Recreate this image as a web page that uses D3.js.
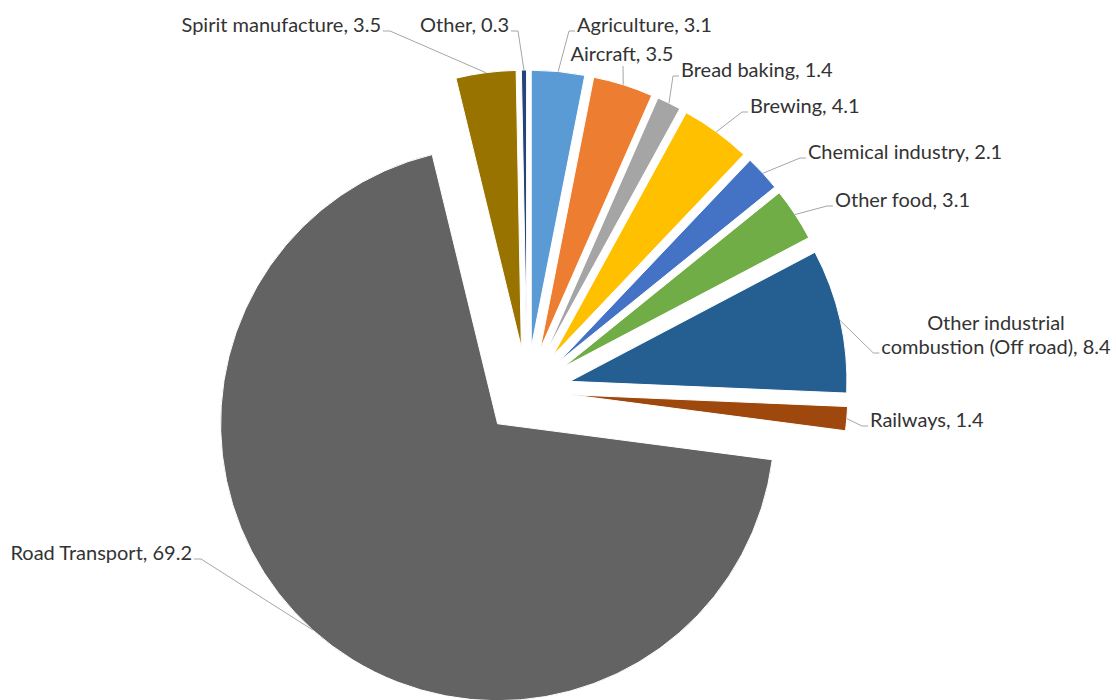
<!DOCTYPE html>
<html>
<head>
<meta charset="utf-8">
<script src="https://cdn.jsdelivr.net/npm/d3@7"></script>
<style>
  body { margin: 0; background: #fff; }
  svg { display: block; }
  .lbl { font-family: Lato, "Open Sans", sans-serif; font-size: 20px; fill: #333333; }
</style>
</head>
<body>
<script>
// categories and their shares, clockwise from 12 o'clock
var categories = ["Agriculture", "Aircraft", "Bread baking", "Brewing", "Chemical industry",
  "Other food", "Other industrial combustion (Off road)", "Railways", "Road Transport",
  "Spirit manufacture", "Other"];
var values = [3.1, 3.5, 1.4, 4.1, 2.1, 3.1, 8.4, 1.4, 69.2, 3.5, 0.3];

var colors = ["#5B9BD5", "#ED7D31", "#A5A5A5", "#FFC000", "#4472C4", "#70AD47",
  "#255E91", "#9E480E", "#636363", "#997300", "#264478"];

// where each data label sits (baseline of last line) and how it hooks to its slice
var labelLayout = [
  { x: 577, y: 32, anchor: "start" },
  { x: 622, y: 61, anchor: "middle", below: true },
  { x: 681, y: 77, anchor: "start" },
  { x: 750, y: 113, anchor: "start" },
  { x: 808, y: 159, anchor: "start" },
  { x: 835, y: 207, anchor: "start" },
  { x: 996, y: 354, anchor: "middle", breakAfter: 2 },
  { x: 870, y: 427, anchor: "start" },
  { x: 192, y: 560, anchor: "end" },
  { x: 381, y: 32, anchor: "end" },
  { x: 509, y: 32, anchor: "end" }
];

var svgWidth = 1116;
var svgHeight = 700;
var cx = 527, cy = 391;
var radius = 277;
var explode = 44;

var svg = d3.select("body")
    .append("svg")
    .attr("width", svgWidth)
    .attr("height", svgHeight);

var pieData = categories.map(function (c, i) {
  return { name: c, value: values[i], color: colors[i], layout: labelLayout[i] };
});

var pie = d3.pie()
    .sort(null)
    .value(function (d) { return d.value; });

var arc = d3.arc()
    .innerRadius(0)
    .outerRadius(radius);

var slices = pie(pieData);

// offset of each exploded slice along its mid angle
function shift(d) {
  var a = (d.startAngle + d.endAngle) / 2;
  return [explode * Math.sin(a), -explode * Math.cos(a)];
}

var chartGroup = svg.append("g")
    .attr("transform", "translate(" + cx + "," + cy + ")");

chartGroup.selectAll("path.slice")
    .data(slices)
    .enter()
    .append("path")
    .attr("class", "slice")
    .attr("d", arc)
    .attr("transform", function (d) {
      var s = shift(d);
      return "translate(" + s[0] + "," + s[1] + ")";
    })
    .attr("fill", function (d) { return d.data.color; })
    .attr("stroke", "#fff")
    .attr("stroke-width", 1);

// labels
var lineGroup = svg.append("g");
var textGroup = svg.append("g");

slices.forEach(function (d) {
  var lay = d.data.layout;
  var full = d.data.name + ", " + d.data.value;
  var lines = [full];
  if (lay.breakAfter) {
    var words = full.split(" ");
    lines = [words.slice(0, lay.breakAfter).join(" "), words.slice(lay.breakAfter).join(" ")];
  }

  var text = textGroup.append("text")
      .attr("class", "lbl")
      .attr("text-anchor", lay.anchor);
  lines.forEach(function (t, i) {
    text.append("tspan")
        .attr("x", lay.x)
        .attr("y", lay.y - (lines.length - 1 - i) * 24)
        .text(t);
  });

  // point on the outer edge at the slice's mid angle
  var a = (d.startAngle + d.endAngle) / 2;
  var s = shift(d);
  var px = cx + s[0] + radius * Math.sin(a);
  var py = cy + s[1] - radius * Math.cos(a);

  var pts;
  if (lay.below) {
    pts = [[lay.x + 1, lay.y + 5], [px, py]];
  } else {
    var lastLine = text.selectAll("tspan").nodes()[lines.length - 1];
    var bb = lastLine.getBBox();
    var ly = lay.y - 1;
    if (lay.anchor === "end") {
      pts = [[bb.x + bb.width + 2, ly], [bb.x + bb.width + 9, ly], [px, py]];
    } else {
      pts = [[bb.x - 2, ly], [bb.x - 8, ly], [px, py]];
    }
  }

  lineGroup.append("path")
      .attr("d", d3.line()(pts))
      .attr("fill", "none")
      .attr("stroke", "#A6A6A6")
      .attr("stroke-width", 1);
});
</script>
</body>
</html>
